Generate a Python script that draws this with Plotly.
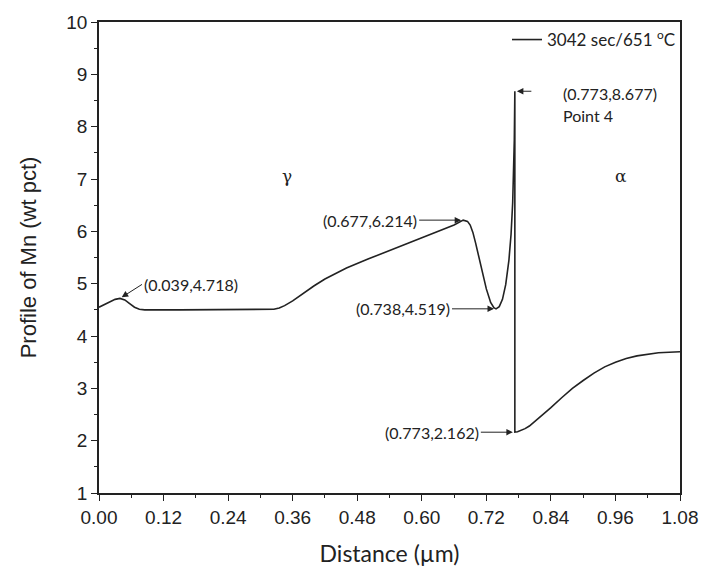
import plotly.graph_objects as go

# Mn concentration profile across the gamma/alpha interface
distance_um = [
    0.000, 0.010, 0.020, 0.030, 0.039, 0.048, 0.057, 0.066, 0.075, 0.085,
    0.150, 0.250, 0.315, 0.325, 0.335, 0.345, 0.360, 0.380, 0.400, 0.420,
    0.440, 0.460, 0.500, 0.550, 0.600, 0.640, 0.660, 0.677, 0.685, 0.690,
    0.695, 0.700, 0.710, 0.720, 0.728, 0.734, 0.738, 0.744, 0.750, 0.756,
    0.762, 0.766, 0.769, 0.771, 0.772, 0.773, 0.773, 0.778, 0.785, 0.792,
    0.800, 0.820, 0.840, 0.860, 0.880, 0.900, 0.920, 0.940, 0.960, 0.980,
    1.000, 1.040, 1.080,
]
mn_wt_pct = [
    4.550, 4.600, 4.660, 4.700, 4.718, 4.690, 4.620, 4.550, 4.510, 4.500,
    4.500, 4.500, 4.500, 4.510, 4.535, 4.580, 4.670, 4.820, 4.960, 5.090,
    5.200, 5.300, 5.470, 5.670, 5.870, 6.030, 6.120, 6.214, 6.190, 6.120,
    5.980, 5.780, 5.330, 4.900, 4.640, 4.540, 4.519, 4.560, 4.700, 4.980,
    5.450, 5.950, 6.550, 7.150, 7.750, 8.677, 2.162, 2.170, 2.195, 2.230,
    2.280, 2.450, 2.630, 2.820, 3.000, 3.150, 3.290, 3.410, 3.500, 3.570,
    3.620, 3.680, 3.700,
]

# Labelled points: (distance, Mn, arrow dx px, arrow dy px, text anchor)
labelled = [
    (0.039, 4.718, 22, -14, "left"),
    (0.677, 6.214, -44, 0, "right"),
    (0.738, 4.519, -44, 0, "right"),
    (0.773, 2.162, -34, 0, "right"),
]
peak_point = (0.773, 8.677)

x_ticks = [0.00, 0.12, 0.24, 0.36, 0.48, 0.60, 0.72, 0.84, 0.96, 1.08]
y_ticks = [1, 2, 3, 4, 5, 6, 7, 8, 9, 10]

ink = "#222"
tick_font = dict(family="Liberation Sans, Arial, sans-serif", size=19, color=ink)
label_font = dict(family="Lato, Open Sans, sans-serif", size=16, color=ink)

fig = go.Figure()
fig.add_trace(go.Scatter(
    x=distance_um, y=mn_wt_pct, mode="lines",
    line=dict(color=ink, width=1.6),
    name="3042 sec/651 <sup>o</sup>C",
))

annotations = []
for px, py, dx, dy, anchor in labelled:
    annotations.append(dict(
        x=px, y=py, xref="x", yref="y",
        text=f"({px:.3f},{py:.3f})",
        showarrow=True, arrowhead=2, arrowsize=1.3, arrowwidth=1,
        arrowcolor=ink, ax=dx, ay=dy, xanchor=anchor, yanchor="middle",
        font=label_font, standoff=2,
    ))

# Short arrow at the top of the spike, with its label to the right
annotations.append(dict(
    x=peak_point[0], y=peak_point[1], xref="x", yref="y", text="",
    showarrow=True, arrowhead=2, arrowsize=1.3, arrowwidth=1,
    arrowcolor=ink, ax=18, ay=0, standoff=2,
))
annotations.append(dict(
    x=0.858, y=peak_point[1] - 0.05, xref="x", yref="y",
    text=f"({peak_point[0]:.3f},{peak_point[1]:.3f})",
    showarrow=False, xanchor="left", yanchor="middle", font=label_font,
))
annotations.append(dict(
    x=0.858, y=peak_point[1] - 0.47, xref="x", yref="y",
    text="Point 4",
    showarrow=False, xanchor="left", yanchor="middle", font=label_font,
))

# Phase labels
for sym, xpos in (("γ", 0.350), ("α", 0.970)):
    annotations.append(dict(
        x=xpos, y=7.05, xref="x", yref="y", text=sym, showarrow=False,
        font=dict(family="DejaVu Serif, serif", size=17, color=ink),
    ))

fig.update_layout(
    width=710, height=575,
    margin=dict(l=99, r=19, t=19, b=79),
    paper_bgcolor="white", plot_bgcolor="white",
    showlegend=True,
    legend=dict(
        x=1, y=1.0, xanchor="right", yanchor="top",
        bgcolor="rgba(0,0,0,0)", font=dict(family="Lato, Open Sans, sans-serif", size=17, color=ink),
    ),
    annotations=annotations,
)

fig.update_xaxes(
    range=[0, 1.08], tickvals=x_ticks,
    ticktext=[f"{v:.2f}" for v in x_ticks],
    ticks="outside", ticklen=6, tickwidth=1.2, tickcolor=ink,
    minor=dict(dtick=0.06, tick0=0, ticks="outside", ticklen=3, tickcolor=ink),
    showline=True, linecolor=ink, linewidth=1.5, mirror=True,
    showgrid=False, zeroline=False, tickfont=tick_font,
    title=dict(text="Distance (µm)", standoff=19,
               font=dict(family="Lato, Open Sans, sans-serif", size=23, color=ink)),
)
fig.update_yaxes(
    range=[1, 10], tickvals=y_ticks,
    ticks="outside", ticklen=6, tickwidth=1.2, tickcolor=ink,
    minor=dict(dtick=0.5, tick0=1, ticks="outside", ticklen=3, tickcolor=ink),
    showline=True, linecolor=ink, linewidth=1.5, mirror=True,
    showgrid=False, zeroline=False, tickfont=tick_font,
    title=dict(text="Profile of Mn (wt pct)", standoff=24,
               font=dict(family="Liberation Sans, Arial, sans-serif", size=22, color=ink)),
)

fig.write_html("out.html")
